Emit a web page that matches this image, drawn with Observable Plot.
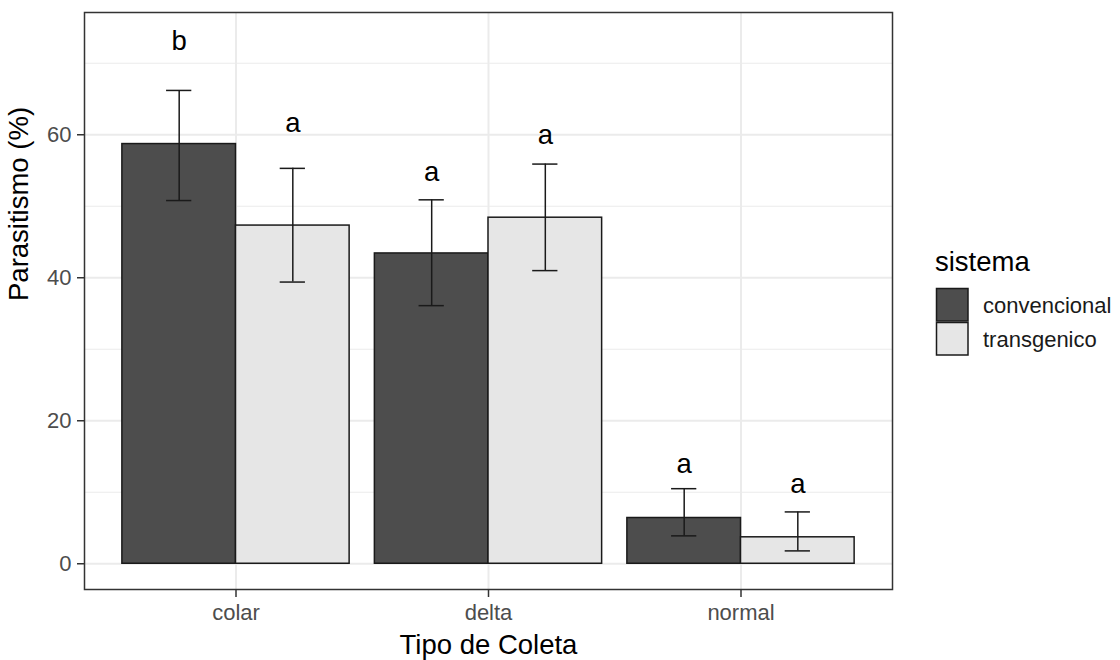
<!DOCTYPE html>
<html>
<head>
<meta charset="utf-8">
<script src="https://cdn.jsdelivr.net/npm/d3@7"></script>
<script src="https://cdn.jsdelivr.net/npm/@observablehq/plot@0.6"></script>
<style>
  html, body { margin: 0; padding: 0; background: #fff; }
  #wrap { position: relative; width: 1120px; height: 660px; }
  #legend { position: absolute; left: 0; top: 0; pointer-events: none; }
</style>
</head>
<body>
<div id="wrap"></div>
<script>
// ---- data ----
const categorias = ["colar", "delta", "normal"];
const sistemas = ["convencional", "transgenico"];
const convencional = [58.7, 43.4, 6.4];
const transgenico = [47.3, 48.4, 3.7];
const convInf = [50.8, 36.1, 3.9];
const convSup = [66.2, 50.9, 10.5];
const transInf = [39.4, 41.0, 1.8];
const transSup = [55.3, 55.9, 7.25];
const letrasConv = ["b", "a", "a"];
const letrasTrans = ["a", "a", "a"];
const letraYConv = [73.1, 54.8, 13.9];
const letraYTrans = [61.6, 60.0, 11.1];
const yMajor = [0, 20, 40, 60];
const yMinor = [10, 30, 50, 70];
const tituloX = "Tipo de Coleta";
const tituloY = "Parasitismo (%)";
const tituloLegenda = "sistema";
const cores = ["#4d4d4d", "#e6e6e6"];

// ---- build table ----
const half = 0.225; // dodge offset (half of a bar's width in band units)
const rows = [];
categorias.forEach((c, i) => {
  rows.push({cat: c, idx: i + 1, sistema: sistemas[0], off: -half, v: convencional[i], lo: convInf[i], hi: convSup[i], letra: letrasConv[i], ly: letraYConv[i]});
  rows.push({cat: c, idx: i + 1, sistema: sistemas[1], off: half, v: transgenico[i], lo: transInf[i], hi: transSup[i], letra: letrasTrans[i], ly: letraYTrans[i]});
});
const catIdx = categorias.map((c, i) => i + 1);

const font = "Liberation Sans, Arial, Helvetica, sans-serif";
const gridColor = "#ebebeb";

const plot = Plot.plot({
  width: 1120,
  height: 660,
  marginTop: 12,
  marginRight: 228,
  marginBottom: 71,
  marginLeft: 84,
  style: {fontFamily: font, fontSize: "22px", background: "#fff"},
  x: {type: "linear", domain: [0.4, 3.6], axis: null},
  y: {domain: [-3.6, 77.1], axis: null},
  color: {domain: sistemas, range: cores},
  marks: [
    Plot.ruleY(yMinor, {stroke: gridColor, strokeWidth: 1.2}),
    Plot.ruleY(yMajor, {stroke: gridColor, strokeWidth: 2}),
    Plot.ruleX(catIdx, {stroke: gridColor, strokeWidth: 2}),
    Plot.rect(rows, {
      x1: d => d.idx + d.off - half,
      x2: d => d.idx + d.off + half,
      y1: 0,
      y2: "v",
      fill: "sistema",
      stroke: "#1a1a1a",
      strokeWidth: 1.5
    }),
    Plot.ruleX(rows, {x: d => d.idx + d.off, y1: "lo", y2: "hi", stroke: "#1a1a1a", strokeWidth: 1.5}),
    Plot.ruleY(rows, {y: "hi", x1: d => d.idx + d.off - 0.05, x2: d => d.idx + d.off + 0.05, stroke: "#1a1a1a", strokeWidth: 1.5}),
    Plot.ruleY(rows, {y: "lo", x1: d => d.idx + d.off - 0.05, x2: d => d.idx + d.off + 0.05, stroke: "#1a1a1a", strokeWidth: 1.5}),
    Plot.text(rows, {x: d => d.idx + d.off, y: "ly", text: "letra", fontSize: 27.5, fill: "#000", lineAnchor: "middle"}),
    Plot.frame({stroke: "#333", strokeWidth: 1.5}),
    // axes
    Plot.axisY(yMajor, {tickSize: 7, tickPadding: 6, stroke: "#333", strokeWidth: 1.5, fill: "#4d4d4d", fontSize: 22, label: null}),
    Plot.axisX(catIdx, {tickSize: 8, tickPadding: 7, stroke: "#333", strokeWidth: 1.5, fill: "#4d4d4d", fontSize: 22, label: null, tickFormat: d => categorias[d - 1]}),
    // axis titles
    Plot.text([tituloX], {frameAnchor: "bottom", dy: 55.5, fontSize: 27.5, fill: "#000", lineAnchor: "middle"}),
    Plot.text([tituloY], {frameAnchor: "left", dx: -65, rotate: -90, fontSize: 27.5, fill: "#000", lineAnchor: "middle"})
  ]
});

const wrap = document.getElementById("wrap");
wrap.appendChild(plot);

// ---- legend (right side) ----
const color = plot.scale("color");
const svg = d3.select(wrap).append("svg")
  .attr("id", "legend")
  .attr("width", 1120).attr("height", 660)
  .style("font-family", font);
svg.append("text")
  .attr("x", 935).attr("y", 271)
  .attr("font-size", 27.5).attr("fill", "#000")
  .text(tituloLegenda);
const key = 34;
const g = svg.selectAll("g.key").data(color.domain).join("g")
  .attr("transform", (d, i) => `translate(935, ${288 + i * key})`);
g.append("rect")
  .attr("x", 1.5).attr("y", 0.5).attr("width", 31.5).attr("height", 32.5)
  .attr("fill", d => color.apply(d)).attr("stroke", "#1a1a1a").attr("stroke-width", 1.5);
g.append("text")
  .attr("x", 48).attr("y", key / 2 + 8)
  .attr("font-size", 22).attr("fill", "#1a1a1a")
  .text(d => d);
</script>
</body>
</html>
